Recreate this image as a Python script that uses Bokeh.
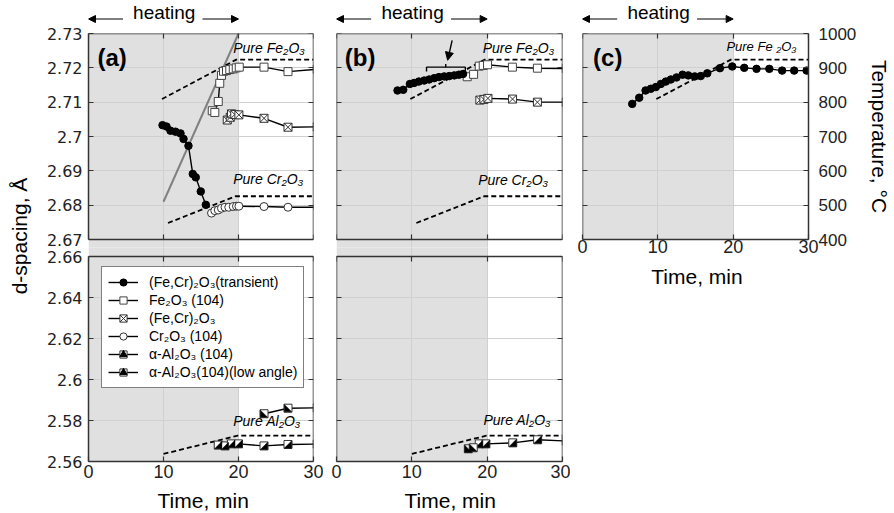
import math
from bokeh.plotting import figure
from bokeh.models import (Range1d, LinearAxis, FixedTicker, Grid, Label, Arrow,
                          NormalHead, Legend, LegendItem)
from bokeh.core.properties import value
from bokeh.layouts import row, column
from bokeh.embed import file_html
from bokeh.resources import INLINE

# ---------------- values ----------------
time_ticks = [0, 10, 20, 30]
top_ticks = [2.67, 2.68, 2.69, 2.70, 2.71, 2.72, 2.73]
top_tick_labels = ["2.67", "2.68", "2.69", "2.7", "2.71", "2.72", "2.73"]
bot_ticks = [2.56, 2.58, 2.60, 2.62, 2.64, 2.66]
bot_tick_labels = ["2.56", "2.58", "2.6", "2.62", "2.64", "2.66"]
temp_ticks = [400, 500, 600, 700, 800, 900, 1000]
heating_window = [0, 20]

# panel (a), upper part
a_transient_t = [9.87, 10.4, 10.93, 11.6, 12.27, 12.67, 13.33, 13.9, 14.3, 14.97, 15.64]
a_transient_d = [2.7033, 2.7029, 2.7017, 2.7014, 2.7009, 2.6993, 2.6973, 2.6891, 2.6881, 2.6840, 2.6801]
a_fe2o3_t = [16.5, 16.84, 17.3, 17.5, 17.73, 18.0, 18.4, 18.84, 19.3, 19.7, 20.1, 23.4, 26.6, 30.5]
a_fe2o3_d = [2.7075, 2.7070, 2.7102, 2.7155, 2.7178, 2.7190, 2.7192, 2.7195, 2.7197, 2.7200, 2.7202, 2.7202, 2.7189, 2.7196]
a_fecr_t = [18.5, 18.9, 19.07, 19.5, 20.05, 23.4, 26.6, 30.5]
a_fecr_d = [2.7048, 2.7056, 2.7066, 2.7064, 2.7063, 2.7053, 2.7027, 2.7028]
a_cr2o3_t = [16.4, 16.84, 17.3, 17.73, 18.2, 18.7, 19.3, 19.73, 20.05, 23.4, 26.6, 30.5]
a_cr2o3_d = [2.6777, 2.6784, 2.6786, 2.6791, 2.6794, 2.6794, 2.6796, 2.6797, 2.6797, 2.6796, 2.6794, 2.6794]
a_temp_line_t = [10, 20]
a_temp_line_d = [2.681, 2.730]
# panel (a), lower part
a_al2o3_t = [17.3, 18.2, 19.05, 20.0, 23.4, 26.6, 30.5]
a_al2o3_d = [2.5680, 2.5676, 2.5686, 2.5686, 2.5676, 2.5683, 2.5685]
a_al_low_t = [23.4, 26.6, 30.5]
a_al_low_d = [2.5833, 2.5860, 2.5862]

# panel (b)
b_transient_t = [8.1, 8.86, 9.74, 10.3, 10.93, 11.64, 12.3, 12.97, 13.6, 14.3, 14.97, 15.63, 16.25, 16.8]
b_transient_d = [2.7134, 2.7136, 2.7153, 2.7156, 2.7160, 2.7163, 2.7166, 2.7170, 2.7173, 2.7175, 2.7176, 2.7178, 2.7180, 2.7182]
b_fe2o3_t = [17.35, 18.2, 18.95, 19.48, 20.05, 23.35, 26.67, 30.5]
b_fe2o3_d = [2.7174, 2.7181, 2.7205, 2.7207, 2.7209, 2.7202, 2.7199, 2.7198]
b_fecr_t = [19.03, 19.56, 20.1, 23.37, 26.67, 30.5]
b_fecr_d = [2.7106, 2.7108, 2.7111, 2.7109, 2.7100, 2.7100]
b_al2o3_t = [18.95, 19.83, 23.4, 26.7, 30.5]
b_al2o3_d = [2.5686, 2.5686, 2.5691, 2.5706, 2.5700]
b_al_low_t = [17.5, 18.15]
b_al_low_d = [2.5662, 2.5667]
b_bracket_t = [11.95, 11.95, 17.1, 17.1]
b_bracket_d = [2.7189, 2.7202, 2.7202, 2.7189]
b_bracket_tick_t = [14.5, 14.5]
b_bracket_tick_d = [2.7202, 2.7211]
b_arrow = [15.35, 2.7280, 14.75, 2.7222]

# panel (c)
c_transient_t = [6.6, 7.53, 8.37, 9.07, 9.74, 10.4, 11.06, 11.73, 12.48, 13.28, 14.04, 14.9,
                 15.7, 16.56, 18.24, 19.88, 21.47, 23.1, 24.8, 26.5, 28.1, 29.75]
c_transient_d = [2.7095, 2.7113, 2.7134, 2.7139, 2.7144, 2.7153, 2.7160, 2.7166, 2.7172, 2.7180, 2.7178, 2.7175,
                 2.7176, 2.7184, 2.7199, 2.7204, 2.7200, 2.7197, 2.7197, 2.7192, 2.7192, 2.7192]

# reference lines for the pure oxides
pure_fe_t = [9.8, 19.7, 30]
pure_fe_d = [2.7109, 2.7224, 2.7224]
pure_cr_t = [10.6, 19.6, 30]
pure_cr_d = [2.6748, 2.6826, 2.6826]
pure_al_t = [10, 19.9, 30]
pure_al_d = [2.5637, 2.5726, 2.5726]

# ---------------- styling / layout ----------------
SANS = "Liberation Sans"
SHADE = "#e0e0e0"
GRID = "#d0d0d0"
AXC = "#333333"
HEAD_H, TOP_PAD = 23, 10
TOP_PANEL_H, TOP_EXT = 206, 9
BOT_PANEL_H, BOT_EXT = 205, 9
TOP_SPAN = top_ticks[-1] - top_ticks[0]
BOT_SPAN = bot_ticks[-1] - bot_ticks[0]
TOP_SCALE = TOP_PANEL_H / TOP_SPAN
BOT_SCALE = BOT_PANEL_H / BOT_SPAN
TOP_Y0 = top_ticks[0] - TOP_EXT / TOP_SCALE
BOT_Y1 = bot_ticks[-1] + BOT_EXT / BOT_SCALE


def make_panel(frame_w, frame_h, y0, y1, left, right, top, bottom, yticks):
    p = figure(frame_width=frame_w, frame_height=frame_h,
               x_range=Range1d(0, 30), y_range=Range1d(y0, y1),
               x_axis_type=None, y_axis_type=None,
               min_border_left=left, min_border_right=right,
               min_border_top=top, min_border_bottom=bottom,
               output_backend="svg", toolbar_location=None)
    p.outline_line_color = None
    p.background_fill_color = "white"
    p.border_fill_color = "white"
    span = y1 - y0
    p.quad(left=[heating_window[0]], right=[heating_window[1]],
           bottom=[y0 - span], top=[y1 + span],
           fill_color=SHADE, line_color=None, level="image")
    p.add_layout(Grid(dimension=0, ticker=FixedTicker(ticks=time_ticks),
                      grid_line_color=GRID, grid_line_width=1))
    p.add_layout(Grid(dimension=1, ticker=FixedTicker(ticks=yticks),
                      grid_line_color=GRID, grid_line_width=1))
    return p


def strip(frame_w, frame_h, left, right):
    s = figure(frame_width=frame_w, frame_height=frame_h,
               x_range=Range1d(0, 30), y_range=Range1d(0, frame_h),
               x_axis_type=None, y_axis_type=None,
               min_border_left=left, min_border_right=right,
               min_border_top=0, min_border_bottom=0,
               output_backend="svg", toolbar_location=None)
    s.outline_line_color = None
    s.background_fill_color = "white"
    s.border_fill_color = "white"
    return s


def add_axis(p, side, ticks, labels=None, fixed=None, bounds=None, range_name=None,
             font=SANS, size="18px", standoff=5):
    kw = {}
    if range_name:
        kw["y_range_name"] = range_name
    ax = LinearAxis(ticker=FixedTicker(ticks=ticks), **kw)
    ax.major_tick_in = 5
    ax.major_tick_out = 0
    ax.minor_tick_line_color = None
    ax.axis_line_color = AXC
    ax.axis_line_width = 1.5
    ax.major_tick_line_color = AXC
    ax.major_tick_line_width = 1.2
    if fixed is not None:
        ax.fixed_location = fixed
    if bounds is not None:
        ax.bounds = bounds
    if labels is None:
        ax.major_label_text_font_size = "0px"
        ax.major_label_text_alpha = 0
        ax.major_label_standoff = 0
    else:
        ax.major_label_text_font = font
        ax.major_label_text_font_size = size
        ax.major_label_text_color = "#222222"
        ax.major_label_standoff = standoff
        if labels != "auto":
            ax.major_label_overrides = dict(zip(ticks, labels))
    p.add_layout(ax, side)
    return ax


def series(p, t, d, marker, fill, edge, size=8):
    lr = p.line(t, d, line_color="black", line_width=1.4)
    sr = p.scatter(t, d, marker=marker, size=size, fill_color=fill,
                   line_color=edge, line_width=1)
    return [lr, sr]


def half_series(p, t, d, corner, px_x, px_y):
    lr = p.line(t, d, line_color="black", line_width=1.4)
    ang = -3 * math.pi / 4 if corner == "lr" else 3 * math.pi / 4
    tri = p.scatter(t, d, marker="triangle", size=6, angle=ang,
                    fill_color="black", line_color="black")
    sr = p.scatter(t, d, marker="square", size=8, fill_color="white",
                   line_color="#333333", line_width=1)
    hx, hy = 3.6 / px_x, 3.6 / px_y
    xs, ys = [], []
    for ti, di in zip(t, d):
        if corner == "lr":
            xs.append([ti - hx, ti + hx, ti + hx])
        else:
            xs.append([ti - hx, ti + hx, ti - hx])
        ys.append([di - hy, di - hy, di + hy])
    p.patches(xs, ys, fill_color="black", line_color="black", line_width=0.5)
    return [lr, sr, tri]


def dashed(p, t, d):
    p.line(t, d, line_color="black", line_width=1.8, line_dash="5 3")


def text(p, x, y, s, size="14px", style="italic", align="left", baseline="middle",
         angle=0.0, font=SANS):
    p.add_layout(Label(x=x, y=y, text=s, text_font=font, text_font_size=size,
                       text_font_style=style, text_align=align, text_baseline=baseline,
                       angle=angle, text_color="black"))


def heating(s):
    head = dict(size=7, fill_color="black", line_color="black", line_width=1)
    s.add_layout(Arrow(x_start=4.6, y_start=4.5, x_end=0.0, y_end=4.5,
                       end=NormalHead(**head), line_color="black", line_width=1.2))
    s.add_layout(Arrow(x_start=15.2, y_start=4.5, x_end=20.0, y_end=4.5,
                       end=NormalHead(**head), line_color="black", line_width=1.2))
    text(s, 10.1, 11.3, "heating", size="19px", style="normal", align="center")


# ---------------- label column ----------------
LAB_W, LAB_H = 43, 511
lab = figure(width=LAB_W, height=LAB_H, x_range=Range1d(0, 1), y_range=Range1d(0, 1),
             x_axis_type=None, y_axis_type=None, min_border=0,
             output_backend="svg", toolbar_location=None)
lab.outline_line_color = None
text(lab, 19 / LAB_W, 1 - 235.5 / LAB_H, "d-spacing, Å", size="21px", style="normal",
     align="center", angle=math.pi / 2)

# ---------------- figures ----------------
# the lower panels overlap the upper ones by one pixel row inside the shaded gap
a_head = strip(225, HEAD_H, 44, 10)
a_top = make_panel(225, TOP_PANEL_H + TOP_EXT, TOP_Y0, top_ticks[-1], 44, 10, TOP_PAD, 0, top_ticks)
a_bot = make_panel(225, BOT_PANEL_H + BOT_EXT, bot_ticks[0], BOT_Y1, 44, 10, 0, 26, bot_ticks)
a_bot.margin = (-1, 0, 0, 0)
a_foot = strip(225, 25, 44, 10)
b_head = strip(226, HEAD_H, 13, 8)
b_top = make_panel(226, TOP_PANEL_H + TOP_EXT, TOP_Y0, top_ticks[-1], 13, 8, TOP_PAD, 0, top_ticks)
b_bot = make_panel(226, BOT_PANEL_H + BOT_EXT, bot_ticks[0], BOT_Y1, 13, 8, 0, 26, bot_ticks)
b_bot.margin = (-1, 0, 0, 0)
b_foot = strip(226, 25, 13, 8)
c_head = strip(226, HEAD_H, 12, 86)
c_top = make_panel(226, TOP_PANEL_H, top_ticks[0], top_ticks[-1], 12, 86, TOP_PAD, 24, top_ticks)
c_top.extra_y_ranges = {"temp": Range1d(temp_ticks[0], temp_ticks[-1])}
c_foot = strip(226, 27, 12, 86)

tb = (top_ticks[0], top_ticks[-1])
bb = (bot_ticks[0], bot_ticks[-1])
# axes for (a)
add_axis(a_top, "left", top_ticks, top_tick_labels, bounds=tb, font="DejaVu Sans", size="16px", standoff=6)
add_axis(a_top, "right", top_ticks, fixed=30, bounds=tb)
add_axis(a_top, "above", time_ticks, fixed=top_ticks[-1])
add_axis(a_top, "below", time_ticks, fixed=top_ticks[0])
add_axis(a_bot, "left", bot_ticks, bot_tick_labels, bounds=bb, font="DejaVu Sans", size="16px", standoff=6)
add_axis(a_bot, "right", bot_ticks, fixed=30, bounds=bb)
add_axis(a_bot, "above", time_ticks, fixed=bot_ticks[-1])
add_axis(a_bot, "below", time_ticks, "auto", standoff=3)
# axes for (b)
add_axis(b_top, "left", top_ticks, fixed=0, bounds=tb)
add_axis(b_top, "right", top_ticks, fixed=30, bounds=tb)
add_axis(b_top, "above", time_ticks, fixed=top_ticks[-1])
add_axis(b_top, "below", time_ticks, fixed=top_ticks[0])
add_axis(b_bot, "left", bot_ticks, fixed=0, bounds=bb)
add_axis(b_bot, "right", bot_ticks, fixed=30, bounds=bb)
add_axis(b_bot, "above", time_ticks, fixed=bot_ticks[-1])
add_axis(b_bot, "below", time_ticks, "auto", standoff=3)
# axes for (c)
add_axis(c_top, "left", top_ticks, fixed=0)
t_ax = add_axis(c_top, "right", temp_ticks, "auto", range_name="temp", size="17px", standoff=10)
t_ax.axis_label = "Temperature, °C"
t_ax.axis_label_text_font = SANS
t_ax.axis_label_text_font_size = "21px"
t_ax.axis_label_text_font_style = "normal"
t_ax.axis_label_text_color = "black"
t_ax.axis_label_standoff = 9
add_axis(c_top, "above", time_ticks, fixed=top_ticks[-1])
add_axis(c_top, "below", time_ticks, "auto", standoff=0)

# ---- panel (a) data
a_top.line(a_temp_line_t, a_temp_line_d, line_color="#808080", line_width=2)
dashed(a_top, pure_fe_t, pure_fe_d)
dashed(a_top, pure_cr_t, pure_cr_d)
series(a_top, a_fe2o3_t, a_fe2o3_d, "square", "white", "#444444")
series(a_top, a_fecr_t, a_fecr_d, "square_x", "white", "#333333")
series(a_top, a_cr2o3_t, a_cr2o3_d, "circle", "white", "#333333")
series(a_top, a_transient_t, a_transient_d, "circle", "black", "black", size=7.5)
text(a_top, 19.3, top_ticks[-1] - 14 / TOP_SCALE, "Pure Fe₂O₃")
text(a_top, 19.3, top_ticks[-1] - 145 / TOP_SCALE, "Pure Cr₂O₃")
text(a_top, 1.2, top_ticks[-1] - 24 / TOP_SCALE, "(a)", size="24px", style="bold")
heating(a_head)

px_a = 225 / 30.0
dashed(a_bot, pure_al_t, pure_al_d)
r_al = half_series(a_bot, a_al2o3_t, a_al2o3_d, "lr", px_a, BOT_SCALE)
r_low = half_series(a_bot, a_al_low_t, a_al_low_d, "ll", px_a, BOT_SCALE)
# upper-panel series repeated here (outside this y range) so the legend can show them
r_fe = series(a_bot, a_fe2o3_t, a_fe2o3_d, "square", "white", "#444444")
r_fecr = series(a_bot, a_fecr_t, a_fecr_d, "square_x", "white", "#333333")
r_cr = series(a_bot, a_cr2o3_t, a_cr2o3_d, "circle", "white", "#333333")
r_tr = series(a_bot, a_transient_t, a_transient_d, "circle", "black", "black", size=7.5)
text(a_bot, 19.3, bot_ticks[-1] - 164 / BOT_SCALE, "Pure Al₂O₃")
text(a_foot, 15.3, 12.4, "Time, min", size="21px", style="normal", align="center")

legend = Legend(items=[
    LegendItem(label=value("(Fe,Cr)₂O₃(transient)"), renderers=r_tr),
    LegendItem(label=value("Fe₂O₃ (104)"), renderers=r_fe),
    LegendItem(label=value("(Fe,Cr)₂O₃"), renderers=r_fecr),
    LegendItem(label=value("Cr₂O₃ (104)"), renderers=r_cr),
    LegendItem(label=value("α-Al₂O₃ (104)"), renderers=r_al),
    LegendItem(label=value("α-Al₂O₃(104)(low angle)"), renderers=r_low),
], location=(13, 73))
legend.label_text_font = SANS
legend.label_text_font_size = "14px"
legend.label_text_color = "black"
legend.glyph_width = 30
legend.glyph_height = 18
legend.label_height = 18
legend.spacing = 0
legend.padding = 6
legend.margin = 0
legend.label_standoff = 11
legend.border_line_color = "black"
legend.border_line_width = 1.2
legend.background_fill_color = "white"
legend.background_fill_alpha = 1.0
a_bot.add_layout(legend)

# ---- panel (b) data
dashed(b_top, pure_fe_t, pure_fe_d)
dashed(b_top, pure_cr_t, pure_cr_d)
series(b_top, b_fe2o3_t, b_fe2o3_d, "square", "white", "#444444")
series(b_top, b_fecr_t, b_fecr_d, "square_x", "white", "#333333")
series(b_top, b_transient_t, b_transient_d, "circle", "black", "black", size=7.5)
b_top.line(b_bracket_t, b_bracket_d, line_color="black", line_width=1.4)
b_top.line(b_bracket_tick_t, b_bracket_tick_d, line_color="black", line_width=1.4)
b_top.add_layout(Arrow(x_start=b_arrow[0], y_start=b_arrow[1], x_end=b_arrow[2], y_end=b_arrow[3],
                       end=NormalHead(size=8, fill_color="black", line_color="black"),
                       line_color="black", line_width=1.4))
text(b_top, 19.4, top_ticks[-1] - 14 / TOP_SCALE, "Pure Fe₂O₃")
text(b_top, 18.8, top_ticks[-1] - 146 / TOP_SCALE, "Pure Cr₂O₃")
text(b_top, 1.1, top_ticks[-1] - 24 / TOP_SCALE, "(b)", size="24px", style="bold")
heating(b_head)

px_b = 226 / 30.0
dashed(b_bot, pure_al_t, pure_al_d)
half_series(b_bot, b_al2o3_t, b_al2o3_d, "lr", px_b, BOT_SCALE)
half_series(b_bot, b_al_low_t, b_al_low_d, "ll", px_b, BOT_SCALE)
text(b_bot, 19.5, bot_ticks[-1] - 163 / BOT_SCALE, "Pure Al₂O₃")
text(b_foot, 15.1, 12.4, "Time, min", size="21px", style="normal", align="center")

# ---- panel (c) data
dashed(c_top, pure_fe_t, pure_fe_d)
series(c_top, c_transient_t, c_transient_d, "circle", "black", "black", size=7.5)
text(c_top, 19.1, top_ticks[-1] - 12.5 / TOP_SCALE, "Pure Fe ₂O₃", size="13px")
text(c_top, 1.4, top_ticks[-1] - 24 / TOP_SCALE, "(c)", size="24px", style="bold")
heating(c_head)
text(c_foot, 15.2, 14.5, "Time, min", size="21px", style="normal", align="center")

layout = row(lab,
             column(a_head, a_top, a_bot, a_foot),
             column(b_head, b_top, b_bot, b_foot),
             column(c_head, c_top, c_foot))
open("out.html", "w").write(file_html(layout, INLINE))
